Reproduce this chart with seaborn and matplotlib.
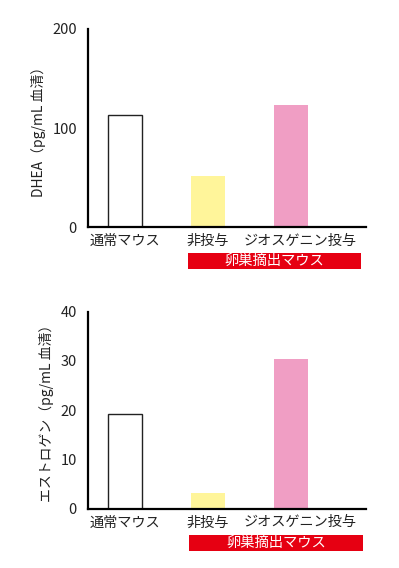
import matplotlib
matplotlib.use("Agg")
import matplotlib.pyplot as plt
import matplotlib.transforms as mtransforms
import seaborn as sns
import pandas as pd
from matplotlib.patches import Rectangle

categories = ["通常マウス", "非投与", "ジオスゲニン投与"]
dhea_values = [113, 52, 123]
estrogen_values = [19.1, 3.2, 30.4]
group_label = "卵巣摘出マウス"
dhea_ylabel = "DHEA（pg/mL 血清）"
estrogen_ylabel = "エストロゲン（pg/mL 血清）"
dhea_ticks = [0, 100, 200]
estrogen_ticks = [0, 10, 20, 30, 40]

sns.set_style("white")
plt.rcParams['font.family'] = ['Noto Sans CJK JP', 'DejaVu Sans']

colors = ["#FFFFFF", "#FFF59A", "#F09EC4"]
palette = dict(zip(categories, colors))

W, H = 399, 568
fig = plt.figure(figsize=(W / 100, H / 100), dpi=100)


def draw(ax, values, ylabel, ticks):
    df = pd.DataFrame({"cat": categories, "val": values})
    sns.barplot(data=df, x="cat", y="val", hue="cat", palette=palette,
                order=categories, hue_order=categories, dodge=False,
                width=0.41, legend=False, ax=ax, saturation=1)
    for i, p in enumerate(ax.patches):
        if i == 0:
            p.set_edgecolor("#222222")
            p.set_linewidth(1.0)
        else:
            p.set_edgecolor("none")
    ax.set_xlim(-0.44, 2.9)
    ax.set_ylim(ticks[0], ticks[-1])
    ax.set_yticks(ticks)
    ax.set_xlabel("")
    ax.set_ylabel(ylabel, fontsize=10, labelpad=4.5, color="#222222")
    for s in ["top", "right"]:
        ax.spines[s].set_visible(False)
    for s in ["left", "bottom"]:
        ax.spines[s].set_linewidth(1.6)
        ax.spines[s].set_color("black")
    ax.tick_params(axis="y", direction="inout", length=4, width=1,
                   labelsize=10.5, pad=6, colors="black", labelcolor="#222222")
    ax.tick_params(axis="x", length=0, labelsize=10.2, pad=5, labelcolor="#222222")
    # shift last category label slightly right as in reference
    lbl = ax.get_xticklabels()[2]
    lbl.set_transform(lbl.get_transform() +
                      mtransforms.ScaledTranslation(9 / 100, 0, fig.dpi_scale_trans))
    ax.set_facecolor("none")


ax1 = fig.add_axes([88 / W, 1 - 227 / H, 278 / W, 198 / H])
draw(ax1, dhea_values, dhea_ylabel, dhea_ticks)
ax2 = fig.add_axes([88 / W, 1 - 508.5 / H, 278 / W, 197 / H])
draw(ax2, estrogen_values, estrogen_ylabel, estrogen_ticks)

# red group boxes
for (x0, y0, x1, y1) in [(188, 252.5, 361, 269), (189, 535, 363, 551)]:
    fig.add_artist(Rectangle((x0 / W, 1 - y1 / H), (x1 - x0) / W, (y1 - y0) / H,
                             transform=fig.transFigure, facecolor="#E60012",
                             edgecolor="none"))
    fig.text((x0 + x1) / 2 / W, 1 - (y0 + y1) / 2 / H, group_label,
             color="white", fontsize=10.3, ha="center", va="center")

fig.savefig("out.png", dpi=100, facecolor="white")
